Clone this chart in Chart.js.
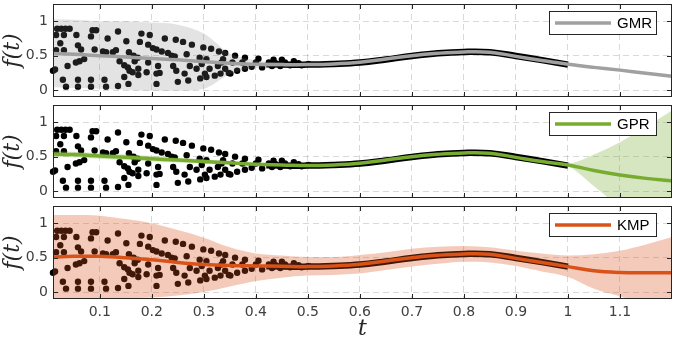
<!DOCTYPE html>
<html><head><meta charset="utf-8">
<script src="https://cdn.jsdelivr.net/npm/chart.js@4.4.1/dist/chart.umd.min.js"></script>
<style>
html,body{margin:0;padding:0;background:#fff;}
#wrap{position:relative;width:676px;height:340px;overflow:hidden;background:#fff;}
canvas{position:absolute;left:0;}
</style></head><body>
<div id="wrap">
<canvas id="c1" width="676" height="101" style="top:0px"></canvas>
<canvas id="c2" width="676" height="101" style="top:101px"></canvas>
<canvas id="c3" width="676" height="138" style="top:202px"></canvas>
</div>
<script>
// ---- data ----
const X_TICKS = [0.1,0.2,0.3,0.4,0.5,0.6,0.7,0.8,0.9,1.0,1.1];
const Y_TICKS = [0,0.5,1];

const T_GRID = [0.01,0.05,0.1,0.15,0.2,0.25,0.3,0.35,0.4,0.45,0.5,0.55,0.6,0.65,0.7,0.75,0.8,0.85,0.9,0.95,1.0,1.05,1.1,1.15,1.2];

const GMR_MEAN  = [0.53,0.52,0.50,0.48,0.46,0.44,0.41,0.39,0.375,0.37,0.37, 0.38,0.405,0.45,0.50,0.535,0.555,0.55,0.49,0.43,0.375, 0.33,0.29,0.245,0.2];
const GMR_UPPER = [1.03,1.02,1.0,1.0,0.98,0.95,0.82,0.53,0.43,0.40,0.39, 0.40,0.425,0.47,0.52,0.555,0.575,0.57,0.51,0.45,0.39, 0.345,0.30,0.255,0.21];
const GMR_LOWER = [0.04,0.03,0.02,0.0,-0.01,-0.01,0.02,0.23,0.32,0.34,0.35, 0.36,0.385,0.43,0.48,0.515,0.535,0.53,0.47,0.41,0.36, 0.315,0.28,0.235,0.19];

const GPR_MEAN  = [0.54,0.53,0.51,0.49,0.47,0.45,0.43,0.41,0.39,0.38,0.37, 0.38,0.405,0.45,0.50,0.535,0.555,0.55,0.49,0.43,0.38, 0.30,0.235,0.185,0.15];
const GPR_UPPER = [0.58,0.57,0.55,0.53,0.51,0.485,0.46,0.435,0.41,0.395,0.385, 0.395,0.42,0.465,0.515,0.55,0.57,0.565,0.505,0.445,0.40, 0.53,0.71,0.93,1.17];
const GPR_LOWER = [0.50,0.49,0.47,0.45,0.43,0.415,0.40,0.385,0.37,0.365,0.355, 0.365,0.39,0.435,0.485,0.52,0.54,0.535,0.475,0.415,0.36, 0.07,-0.24,-0.56,-0.87];

const KMP_MEAN  = [0.51,0.52,0.52,0.50,0.47,0.43,0.40,0.385,0.38,0.375,0.37, 0.38,0.405,0.45,0.50,0.535,0.555,0.55,0.49,0.43,0.37, 0.31,0.285,0.28,0.28];
const KMP_UPPER = [1.12,1.12,1.11,1.06,1.0,0.9,0.79,0.65,0.56,0.53,0.51, 0.51,0.54,0.58,0.63,0.66,0.67,0.65,0.6,0.56,0.53, 0.55,0.6,0.69,0.8];
const KMP_LOWER = [-0.09,-0.09,-0.09,-0.09,-0.08,-0.05,0.0,0.08,0.16,0.21,0.24, 0.25,0.27,0.32,0.37,0.41,0.44,0.43,0.38,0.30,0.22, 0.05,-0.06,-0.17,-0.28];

// demonstration samples (scattered part)
const DEMO_T = [0.010,0.014,0.018,0.026,0.034,0.042,0.016,0.031,0.055,0.058,0.024,0.016,0.031,0.064,
 0.086,0.093,0.083,0.115,0.135,0.151,0.090,0.106,0.112,0.125,0.131,0.156,0.038,0.054,0.070,0.061,
 0.138,0.147,0.154,0.157,0.163,0.147,0.029,0.058,0.083,0.109,0.035,0.058,0.083,0.112,0.135,0.155,
 0.180,0.196,0.177,0.193,0.202,0.209,0.219,0.231,0.238,0.244,0.225,0.246,0.260,0.277,0.299,0.314,0.329,
 0.167,0.193,0.174,0.190,0.174,0.209,0.215,0.209,0.212,0.165,0.173,
 0.241,0.247,0.250,0.263,0.270,0.267,0.273,0.286,0.292,0.296,0.305,
 0.302,0.305,0.321,0.311,0.327,0.334,0.337,0.293,0.332,0.351,
 0.341,0.360,0.379,0.405,0.434,0.450,0.473,
 0.341,0.348,0.364,0.379,0.392,0.412,0.431,0.447,0.466,0.488,
 0.355,0.374,0.400,0.425,0.438,0.456,0.482,0.501];
const DEMO_F = [0.28,0.30,0.89,0.89,0.89,0.89,0.80,0.80,0.80,0.65,0.68,0.58,0.58,0.59,
 0.87,0.87,0.78,0.75,0.85,0.71,0.59,0.56,0.55,0.55,0.58,0.55,0.35,0.40,0.45,0.42,
 0.42,0.36,0.33,0.28,0.26,0.19,0.15,0.15,0.15,0.15,0.05,0.05,0.05,0.05,0.06,0.09,
 0.82,0.80,0.70,0.66,0.61,0.59,0.56,0.54,0.50,0.49,0.75,0.73,0.70,0.66,0.62,0.60,0.56,
 0.42,0.40,0.31,0.26,0.22,0.24,0.25,0.09,0.35,0.50,0.47,
 0.35,0.28,0.12,0.24,0.14,0.52,0.35,0.31,0.47,0.38,0.45,
 0.24,0.19,0.21,0.31,0.35,0.40,0.45,0.17,0.24,0.24,
 0.54,0.50,0.47,0.455,0.44,0.44,0.42,
 0.31,0.25,0.28,0.31,0.34,0.33,0.35,0.35,0.36,0.36,
 0.40,0.40,0.40,0.40,0.39,0.40,0.39,0.38];
// converged part of the demonstrations (dense samples drawn as a thick trace)
const CONV_T = [0.42,0.5,0.55,0.6,0.65,0.7,0.75,0.8,0.85,0.9,0.95,1.0];
const CONV_F = [0.375,0.37,0.38,0.40,0.445,0.495,0.535,0.555,0.55,0.495,0.435,0.37];

// ---- drawing ----
const pts = (xs, ys) => xs.map((x, i) => ({x, y: ys[i]}));
const TICK_COLOR = '#404040';
const FRAME_COLOR = '#262626';

const framePlugin = {
  id: 'frame',
  afterDraw(chart) {
    const {ctx, chartArea: a, scales} = chart;
    const x = scales.x, y = scales.y;
    ctx.save();
    ctx.strokeStyle = FRAME_COLOR; ctx.lineWidth = 1;
    ctx.beginPath();
    X_TICKS.forEach(v => {
      const p = Math.round(x.getPixelForValue(v)) + 0.5;
      ctx.moveTo(p, a.top); ctx.lineTo(p, a.top + 5);
      ctx.moveTo(p, a.bottom); ctx.lineTo(p, a.bottom - 5);
    });
    Y_TICKS.forEach(v => {
      const p = Math.round(y.getPixelForValue(v)) + 0.5;
      ctx.moveTo(a.left, p); ctx.lineTo(a.left + 5, p);
      ctx.moveTo(a.right, p); ctx.lineTo(a.right - 5, p);
    });
    ctx.stroke();
    ctx.strokeRect(a.left + 0.5, a.top + 0.5, a.right - a.left - 1, a.bottom - a.top - 1);
    // legend box
    const ds = chart.data.datasets[0];
    const lw = 108, lh = 24, lx = a.right - 123, ly = a.top + 7;
    ctx.fillStyle = '#fff'; ctx.fillRect(lx, ly, lw, lh);
    ctx.strokeStyle = FRAME_COLOR; ctx.lineWidth = 1;
    ctx.strokeRect(lx + 0.5, ly + 0.5, lw - 1, lh - 1);
    ctx.strokeStyle = ds.borderColor; ctx.lineWidth = 3.5;
    ctx.beginPath(); ctx.moveTo(lx + 6, ly + lh / 2); ctx.lineTo(lx + 62, ly + lh / 2); ctx.stroke();
    ctx.fillStyle = '#000'; ctx.font = '15px "Liberation Sans", Arial, sans-serif';
    ctx.textBaseline = 'middle'; ctx.textAlign = 'left';
    ctx.fillText(ds.label, lx + 68, ly + lh / 2 + 1);
    ctx.restore();
  }
};

function noPad(s) { s.paddingTop = 0; s.paddingBottom = 0; s.paddingLeft = 0; s.paddingRight = 0; }

function makePanel(id, label, color, band, mean, upper, lower, showX) {
  new Chart(document.getElementById(id), {
    type: 'scatter',
    data: {
      datasets: [
        {type: 'line', label, data: pts(T_GRID, mean), borderColor: color, borderWidth: 3.5,
         pointRadius: 0, tension: 0.4, fill: false, order: 0},
        {type: 'line', label: label + ' upper', data: pts(T_GRID, upper), borderColor: 'rgba(0,0,0,0)',
         borderWidth: 0, pointRadius: 0, cubicInterpolationMode: 'monotone', fill: '+1', backgroundColor: band, order: 1},
        {type: 'line', label: label + ' lower', data: pts(T_GRID, lower), borderColor: 'rgba(0,0,0,0)',
         borderWidth: 0, pointRadius: 0, cubicInterpolationMode: 'monotone', fill: false, order: 1},
        {type: 'line', label: 'demos', data: pts(CONV_T, CONV_F), borderColor: '#000', borderWidth: 6.5,
         pointRadius: 0, tension: 0.4, fill: false, order: 2},
        {type: 'scatter', label: 'demo samples', data: pts(DEMO_T, DEMO_F), pointRadius: 3.2,
         backgroundColor: '#000', borderWidth: 0, order: 3, clip: 4}
      ]
    },
    options: {
      responsive: false, animation: false, devicePixelRatio: 1,
      layout: {padding: {left: 0, right: 1, top: 1, bottom: showX ? 0 : 4}},
      plugins: {legend: {display: false}, tooltip: {enabled: false}},
      scales: {
        x: {
          type: 'linear', min: 0.01, max: 1.2,
          afterBuildTicks: s => { s.ticks = X_TICKS.map(v => ({value: v})); },
          afterFit: s => { s.height = showX ? 41 : 0; noPad(s); },
          grid: {color: 'rgba(0,0,0,0.15)', drawTicks: false, lineWidth: 1},
          border: {display: false, dash: [6, 4]},
          ticks: {display: showX, color: TICK_COLOR, font: {family: 'DejaVu Sans', size: 14},
                  padding: 5, maxRotation: 0, autoSkip: false,
                  callback: v => String(+(+v).toFixed(2))},
          title: {display: showX, text: 't', color: FRAME_COLOR, padding: 0,
                  font: {family: 'DejaVu Serif', style: 'italic', size: 22, lineHeight: 1.0}}
        },
        y: {
          type: 'linear', min: -0.1, max: 1.25,
          afterBuildTicks: s => { s.ticks = Y_TICKS.map(v => ({value: v})); },
          afterFit: s => { s.width = 53; noPad(s); },
          grid: {color: 'rgba(0,0,0,0.15)', drawTicks: false, lineWidth: 1},
          border: {display: false, dash: [6, 4]},
          ticks: {color: TICK_COLOR, font: {family: 'DejaVu Sans', size: 14}, padding: 5,
                  callback: v => String(v)},
          title: {display: true, text: 'f(t)', color: FRAME_COLOR, padding: 0,
                  font: {family: 'DejaVu Serif', style: 'italic', size: 22}}
        }
      }
    },
    plugins: [framePlugin]
  });
}

makePanel('c1', 'GMR', '#a0a0a0', 'rgba(128,128,128,0.22)', GMR_MEAN, GMR_UPPER, GMR_LOWER, false);
makePanel('c2', 'GPR', '#77AC30', 'rgba(119,172,48,0.3)', GPR_MEAN, GPR_UPPER, GPR_LOWER, false);
makePanel('c3', 'KMP', '#D95319', 'rgba(217,83,25,0.3)', KMP_MEAN, KMP_UPPER, KMP_LOWER, true);
</script>
</body></html>
